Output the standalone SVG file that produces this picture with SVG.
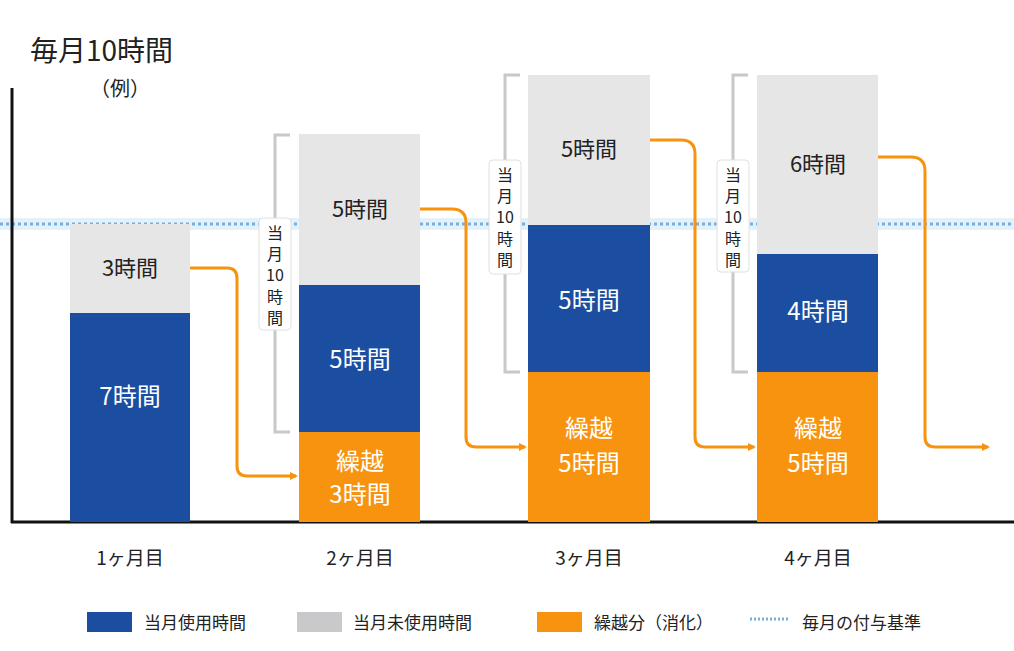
<svg xmlns="http://www.w3.org/2000/svg" width="1014" height="651" viewBox="0 0 1014 651">
<style>
text{font-family:"Noto Sans CJK JP","Noto Sans",sans-serif;fill:#222}
.g{fill:#e6e6e6}.b{fill:#1b4ea0}.o{fill:#f7930e}
.w{fill:#fff;font-size:24px;text-anchor:middle}
.k{font-size:22px;text-anchor:middle}
.c{fill:none;stroke:#f7930e;stroke-width:3}
.br{fill:none;stroke:#c8c8c8;stroke-width:3}
.lb{fill:#fff;stroke:#e0e0e0;stroke-width:1}
.v{font-size:16px;text-anchor:middle}
.m{font-size:19px;text-anchor:middle}
.lg{font-size:17px}
</style>
<defs><marker id="a" markerWidth="8" markerHeight="8" refX="6" refY="4" orient="auto" markerUnits="userSpaceOnUse"><path d="M0,0L8,4L0,8z" fill="#f7930e"/></marker></defs>
<text x="30" y="61" style="font-size:28px">毎月10時間</text>
<text x="90" y="96" style="font-size:20px">（例）</text>
<rect x="0" y="218" width="1014" height="12" fill="#e3f1fb"/>
<line x1="0" y1="224" x2="1014" y2="224" stroke="#7aaede" stroke-width="3" stroke-dasharray="3,3"/>
<g id="axis" stroke="#111" stroke-width="3"><line x1="12" y1="88" x2="12" y2="523"/><line x1="11" y1="522" x2="1014" y2="522"/></g>
<g id="bar1"><rect class="g" x="70" y="224" width="120" height="89"/><rect class="b" x="70" y="313" width="120" height="209"/>
<text class="k" x="130" y="276">3時間</text><text class="w" x="130" y="405">7時間</text></g>
<g id="bar2"><rect class="g" x="299" y="134" width="121" height="151"/><rect class="b" x="299" y="285" width="121" height="147"/><rect class="o" x="299" y="432" width="121" height="90"/>
<text class="k" x="360" y="217">5時間</text><text class="w" x="360" y="368">5時間</text><text class="w" x="360" y="470">繰越</text><text class="w" x="360" y="503">3時間</text></g>
<g id="bar3"><rect class="g" x="528" y="75" width="122" height="150"/><rect class="b" x="528" y="225" width="122" height="147"/><rect class="o" x="528" y="372" width="122" height="150"/>
<text class="k" x="589" y="157">5時間</text><text class="w" x="589" y="309">5時間</text><text class="w" x="589" y="437">繰越</text><text class="w" x="589" y="472">5時間</text></g>
<g id="bar4"><rect class="g" x="757" y="75" width="121" height="179"/><rect class="b" x="757" y="254" width="121" height="118"/><rect class="o" x="757" y="372" width="121" height="150"/>
<text class="k" x="818" y="172">6時間</text><text class="w" x="818" y="320">4時間</text><text class="w" x="818" y="437">繰越</text><text class="w" x="818" y="472">5時間</text></g>
<g id="brackets">
<path class="br" d="M290,135H275V432H290"/><rect class="lb" x="259" y="218" width="32" height="112" rx="4"/>
<text class="v" x="275" y="239">当</text><text class="v" x="275" y="260">月</text><text class="v" x="275" y="281">10</text><text class="v" x="275" y="303">時</text><text class="v" x="275" y="324">間</text>
<path class="br" d="M520,75H505V372H520"/><rect class="lb" x="489" y="160" width="32" height="114" rx="4"/>
<text class="v" x="505" y="181">当</text><text class="v" x="505" y="202">月</text><text class="v" x="505" y="223">10</text><text class="v" x="505" y="245">時</text><text class="v" x="505" y="266">間</text>
<path class="br" d="M748,75H733V372H748"/><rect class="lb" x="717" y="160" width="32" height="112" rx="4"/>
<text class="v" x="733" y="181">当</text><text class="v" x="733" y="202">月</text><text class="v" x="733" y="223">10</text><text class="v" x="733" y="245">時</text><text class="v" x="733" y="266">間</text>
</g>
<g id="connectors">
<path class="c" d="M190,268H227Q237,268 237,278V466Q237,476 247,476H296" marker-end="url(#a)"/>
<path class="c" d="M420,209H452Q466,209 466,223V437Q466,447 476,447H525" marker-end="url(#a)"/>
<path class="c" d="M650,140H681Q695,140 695,154V437Q695,447 705,447H754" marker-end="url(#a)"/>
<path class="c" d="M878,157H911Q925,157 925,171V437Q925,447 935,447H988" marker-end="url(#a)"/>
</g>
<text class="m" x="130" y="565">1ヶ月目</text><text class="m" x="360" y="565">2ヶ月目</text><text class="m" x="589" y="565">3ヶ月目</text><text class="m" x="818" y="565">4ヶ月目</text>
<g id="legend">
<rect class="b" x="87" y="612" width="45" height="20"/><text class="lg" x="144" y="629">当月使用時間</text>
<rect x="297" y="612" width="45" height="20" fill="#c9c9cc"/><text class="lg" x="353" y="629">当月未使用時間</text>
<rect class="o" x="537" y="612" width="45" height="20"/><text class="lg" x="594" y="629">繰越分（消化）</text>
<line x1="750" y1="619" x2="790" y2="619" stroke="#7aaede" stroke-width="3" stroke-dasharray="2,2"/><text class="lg" x="802" y="629">毎月の付与基準</text>
</g>
</svg>
